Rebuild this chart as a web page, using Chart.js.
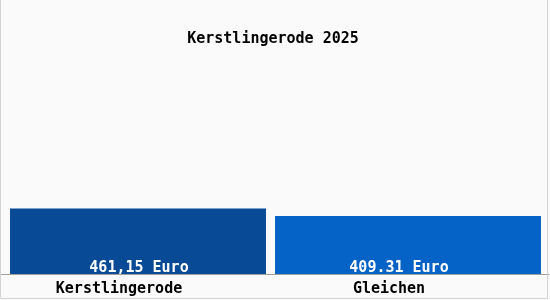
<!DOCTYPE html>
<html>
<head>
<meta charset="utf-8">
<script src="https://cdn.jsdelivr.net/npm/chart.js@4"></script>
<style>
  html, body { margin: 0; padding: 0; background: #fafafa; }
  #wrap { width: 550px; height: 300px; position: relative; }
</style>
</head>
<body>
<div id="wrap"><canvas id="chart"></canvas></div>
<script>
// ── Data ────────────────────────────────────────────────────────────
const TITLE = "Kerstlingerode 2025";
const PLACES = ["Kerstlingerode", "Gleichen"];
const VALUES = [461.15, 409.31];
const VALUE_LABELS = ["461,15 Euro", "409.31 Euro"];
const BAR_COLORS = ["#084a96", "#0562c6"];

const FONT = "'DejaVu Sans Mono', monospace";

// background, frame, baseline and value labels
const framePlugin = {
  id: "frame",
  beforeDraw(chart) {
    const { ctx, width, height } = chart;
    ctx.save();
    ctx.fillStyle = "#fafafa";
    ctx.fillRect(0, 0, width, height);
    ctx.restore();
  },
  afterDatasetsDraw(chart) {
    const { ctx, width, height } = chart;
    const y0 = Math.round(chart.scales.y.getPixelForValue(0));
    ctx.save();
    ctx.strokeStyle = "#a0a0a0";
    ctx.lineWidth = 1;
    ctx.beginPath();
    ctx.moveTo(0, y0 - 0.5);
    ctx.lineTo(width, y0 - 0.5);
    ctx.stroke();
    ctx.strokeStyle = "#d4d4d4";
    ctx.beginPath();
    ctx.moveTo(0.5, 0);
    ctx.lineTo(0.5, height - 1.5);
    ctx.lineTo(width - 2.5, height - 1.5);
    ctx.lineTo(width - 2.5, 0);
    ctx.stroke();

    // value labels sit at the foot of each bar
    const shift = [1, -9];
    ctx.fillStyle = "#ffffff";
    ctx.font = "bold 15px " + FONT;
    ctx.textAlign = "center";
    ctx.textBaseline = "middle";
    chart.data.datasets.forEach((ds, d) => {
      chart.getDatasetMeta(d).data.forEach((bar, i) => {
        if (ds.data[i] == null) return;
        ctx.fillText(VALUE_LABELS[i], bar.x + shift[i], y0 - 7);
      });
    });
    ctx.restore();
  },
};

new Chart(document.getElementById("chart"), {
  type: "bar",
  data: {
    labels: PLACES,
    datasets: [
      {
        data: [VALUES[0], null],
        backgroundColor: BAR_COLORS[0],
        borderWidth: 0,
        barPercentage: 0.948,
        categoryPercentage: 1,
      },
      {
        data: [null, VALUES[1]],
        backgroundColor: BAR_COLORS[1],
        borderWidth: 0,
        barPercentage: 0.985,
        categoryPercentage: 1,
      },
    ],
  },
  options: {
    responsive: true,
    maintainAspectRatio: false,
    animation: false,
    skipNull: true,
    layout: { padding: { left: 3, right: 7, top: 0, bottom: -3 } },
    plugins: {
      legend: { display: false },
      tooltip: { enabled: false },
      title: {
        display: true,
        text: TITLE,
        color: "#000000",
        font: { family: FONT, size: 15, weight: "bold" },
        padding: { top: 30, bottom: 11 },
      },
    },
    scales: {
      x: {
        grid: { display: false, drawTicks: false },
        border: { display: false },
        ticks: {
          color: "#000000",
          padding: 5,
          labelOffset: -19,
          font: { family: FONT, size: 15, weight: "bold" },
        },
      },
      y: {
        display: false,
        min: 0,
        max: 1500,
      },
    },
  },
  plugins: [framePlugin],
});
</script>
</body>
</html>
